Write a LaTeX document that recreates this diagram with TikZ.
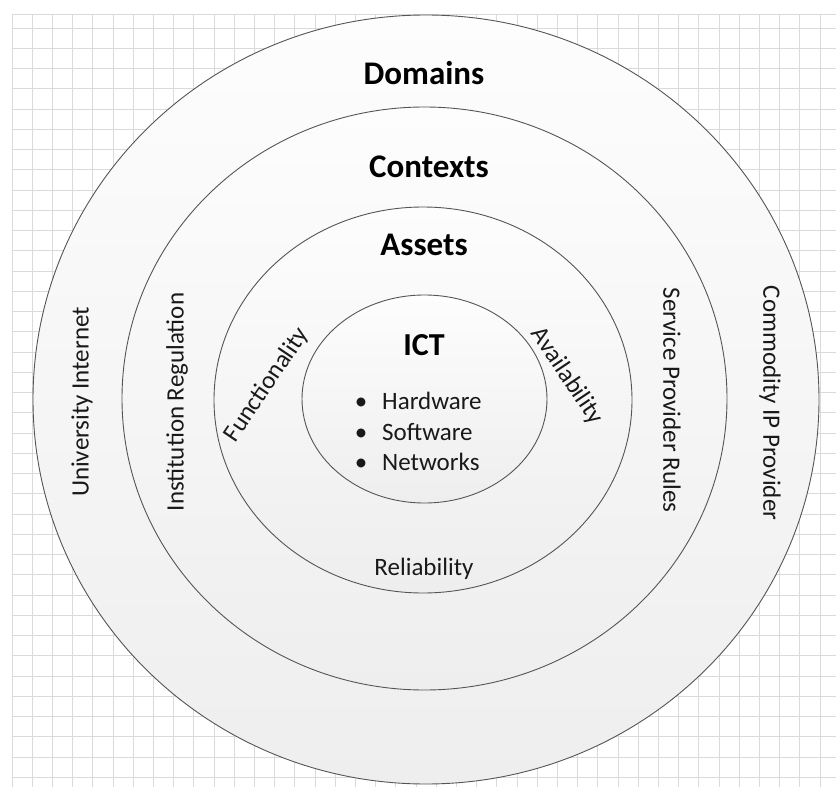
\documentclass[tikz,border=0pt]{standalone}
\usepackage{fontspec}
\setmainfont{Carlito}
\usetikzlibrary{shapes.geometric}
\definecolor{gridc}{RGB}{218,218,218}
\definecolor{ringline}{RGB}{85,85,85}
\definecolor{ringtop}{RGB}{253,253,253}
\definecolor{ringbot}{RGB}{238,238,238}
\definecolor{txt}{RGB}{25,25,25}
\begin{document}
\begin{tikzpicture}[x=1pt,y=-1pt,
  ring/.style={ellipse, draw=ringline, line width=0.9pt, top color=ringtop, bottom color=ringbot, inner sep=0pt},
  head/.style={font=\fontsize{33}{36}\selectfont\bfseries, text=black, anchor=base, inner sep=0pt},
  lbl/.style={font=\fontsize{25}{28}\selectfont, text=txt, inner sep=0pt},
  gridline/.style={draw=gridc, line width=0.8pt}]
\useasboundingbox (0,0) rectangle (836,787);
\fill[white] (0,0) rectangle (836,787);
% grid
\foreach \i in {0,...,40} \draw[gridline] ({12+20.2*\i},14) -- ({12+20.2*\i},787);
\draw[gridline] (12,14) -- (836,14);
\foreach \j in {0,...,37} \draw[gridline] (12,{28+20.25*\j}) -- (836,{28+20.25*\j});
% rings
\node[ring, minimum width=786pt, minimum height=769pt] (domains) at (426,399.5) {};
\node[ring, minimum width=605pt, minimum height=583pt] (contexts) at (424.5,398.5) {};
\node[ring, minimum width=418pt, minimum height=386pt] (assets) at (423,400) {};
\node[ring, minimum width=245pt, minimum height=208pt] (ict) at (424.5,399) {};
% headings
\node[head] (tdom) at (424,84) {Domains};
\node[head] (tctx) at (429,177) {Contexts};
\node[head] (tast) at (424,255) {Assets};
\node[head, font=\fontsize{32}{35}\selectfont\bfseries] (tict) at (424,355) {ICT};
% bullets
\node[lbl, anchor=base] (b1) at (361,409) {\textbullet};
\node[lbl, anchor=base west] (hw) at (382,409) {Hardware};
\node[lbl, anchor=base] (b2) at (361,440) {\textbullet};
\node[lbl, anchor=base west] (sw) at (382,440) {Software};
\node[lbl, anchor=base] (b3) at (361,470) {\textbullet};
\node[lbl, anchor=base west] (nw) at (382,470) {Networks};
% ring labels
\node[lbl, anchor=base] (rel) at (424,575) {Reliability};
\node[lbl, rotate=56] (fun) at (267,385) {Functionality};
\node[lbl, rotate=-56] (ava) at (567,376) {Availability};
\node[lbl, rotate=90] (uni) at (82,402) {University Internet};
\node[lbl, rotate=90] (ins) at (177,402) {Institution Regulation};
\node[lbl, rotate=-90] (spr) at (672,400) {Service Provider Rules};
\node[lbl, rotate=-90] (cip) at (770,403) {Commodity IP Provider};
\end{tikzpicture}
\end{document}
